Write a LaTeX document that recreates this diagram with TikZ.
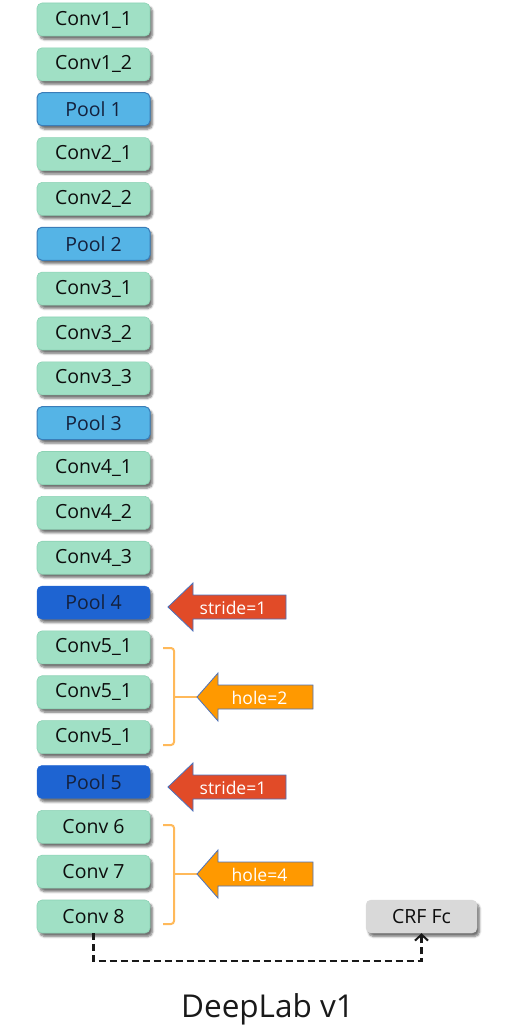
\documentclass[tikz,border=0pt]{standalone}
\usepackage{fontspec}
\setmainfont{Open Sans}
\usetikzlibrary{shadows.blur,arrows.meta,calc}

\definecolor{convgreen}{HTML}{A0E0C5}
\definecolor{convedge}{HTML}{8CD2B4}
\definecolor{poolblue}{HTML}{55B4E6}
\definecolor{pooledge}{HTML}{3A7DB8}
\definecolor{deepblue}{HTML}{1E64D2}
\definecolor{navy}{HTML}{14213D}
\definecolor{crfgray}{HTML}{D9D9D9}
\definecolor{strideRed}{HTML}{E14B28}
\definecolor{holeOrange}{HTML}{FF9900}
\definecolor{arrowEdge}{HTML}{4A72BE}
\definecolor{bracketOrange}{HTML}{FFB95A}

\begin{document}
\begin{tikzpicture}[x=1pt,y=-1pt,
  layer/.style={rounded corners=5pt, minimum width=113pt, minimum height=33pt,
    inner sep=0pt, font=\fontsize{19.5}{22}\selectfont, text=black!95,
    blur shadow={shadow xshift=2.5pt, shadow yshift=-3.5pt, shadow blur steps=6,
      shadow opacity=55, shadow blur extra rounding=1.5pt}},
  conv/.style={layer, fill=convgreen, draw=convedge, line width=0.6pt},
  pool/.style={layer, fill=poolblue, draw=pooledge, line width=1pt, text=navy},
  deeppool/.style={layer, fill=deepblue, draw=deepblue, text=navy},
  crf/.style={layer, minimum width=111pt, fill=crfgray, draw=crfgray},
  blockarrow/.style={draw=arrowEdge, line width=0.8pt, line join=miter},
  arrowlabel/.style={text=white, font=\fontsize{17.5}{20}\selectfont, inner sep=0pt},
  bracket/.style={draw=bracketOrange, line width=2pt, rounded corners=3pt},
  link/.style={draw=black!90, line width=2.2pt, dash pattern=on 7pt off 4pt,
    -{Straight Barb[length=6pt,width=13pt,line width=2pt]}}
]
\useasboundingbox (0,0) rectangle (516,1033);

% the layer stack
\foreach \i/\nm/\st/\txt in {
   0/c11/conv/Conv1\_1, 1/c12/conv/Conv1\_2, 2/p1/pool/Pool 1,
   3/c21/conv/Conv2\_1, 4/c22/conv/Conv2\_2, 5/p2/pool/Pool 2,
   6/c31/conv/Conv3\_1, 7/c32/conv/Conv3\_2, 8/c33/conv/Conv3\_3, 9/p3/pool/Pool 3,
   10/c41/conv/Conv4\_1, 11/c42/conv/Conv4\_2, 12/c43/conv/Conv4\_3, 13/p4/deeppool/Pool 4,
   14/c51a/conv/Conv5\_1, 15/c51b/conv/Conv5\_1, 16/c51c/conv/Conv5\_1, 17/p5/deeppool/Pool 5,
   18/c6/conv/Conv 6, 19/c7/conv/Conv 7, 20/c8/conv/Conv 8}
  \node[\st] (\nm) at (93.5,{19.5+44.85*\i}) {\txt};

\node[crf] (crf) at (421.5,916.5) {CRF Fc};

% stride arrows
\draw[blockarrow, fill=strideRed] (168,607) -- ++(25,-24) -- ++(0,12) -- ++(93,0)
  -- ++(0,24) -- ++(-93,0) -- ++(0,12) -- cycle;
\node[arrowlabel] (s4) at (233,608) {stride=1};
\draw[blockarrow, fill=strideRed] (168,787) -- ++(25,-24) -- ++(0,12) -- ++(93,0)
  -- ++(0,24) -- ++(-93,0) -- ++(0,12) -- cycle;
\node[arrowlabel] (s5) at (233,788) {stride=1};

% hole brackets and arrows
\coordinate (b2) at (197,697);
\draw[bracket] (163,648) -| (174,745) -- (163,745);
\draw[bracket] (174,697) -- (b2);
\draw[blockarrow, fill=holeOrange] (b2) -- ++(21,-24) -- ++(0,12) -- ++(95,0)
  -- ++(0,24) -- ++(-95,0) -- ++(0,12) -- cycle;
\node[arrowlabel] (h2) at (259.5,698) {hole=2};

\coordinate (b4) at (197,874);
\draw[bracket] (163,825) -| (174,924) -- (163,924);
\draw[bracket] (174,874) -- (b4);
\draw[blockarrow, fill=holeOrange] (b4) -- ++(21,-24) -- ++(0,12) -- ++(95,0)
  -- ++(0,24) -- ++(-95,0) -- ++(0,12) -- cycle;
\node[arrowlabel] (h4) at (259.5,875) {hole=4};

% dashed link to the CRF
\draw[link] (c8.south) -- ++(0,28) -| (crf.south);

% title
\node[anchor=base, font=\fontsize{31.5}{36}\selectfont, text=black!90, inner sep=0pt]
  (title) at (267.5,1017) {DeepLab v1};
\end{tikzpicture}
\end{document}
